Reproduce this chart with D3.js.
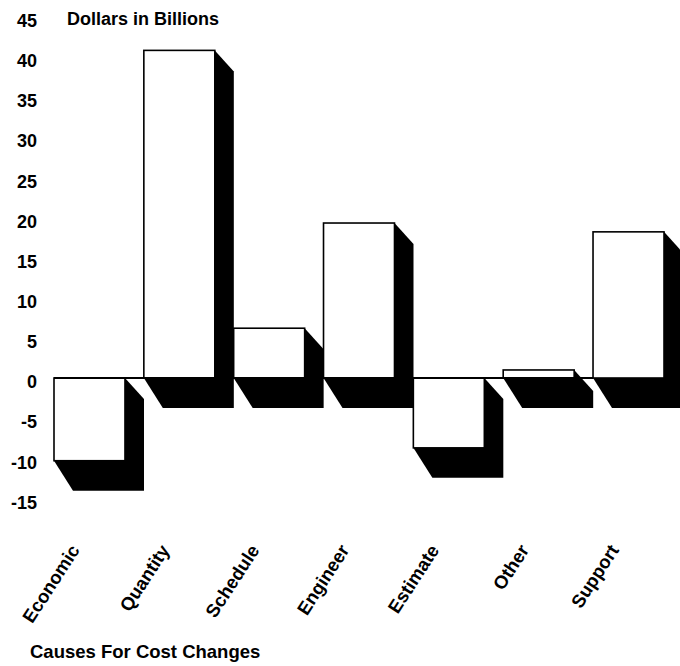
<!DOCTYPE html>
<html><head><meta charset="utf-8">
<script src="https://cdn.jsdelivr.net/npm/d3@7"></script>
<style>
body{margin:0;background:#fff}
svg{display:block}
</style>
</head><body><svg id="c" width="680" height="666"></svg>
<script>
const categories = ["Economic","Quantity","Schedule","Engineer","Estimate","Other","Support"];
const values = [-10.3, 40.8, 6.2, 19.3, -8.7, 1.0, 18.2];
const yTicks = [45,40,35,30,25,20,15,10,5,0,-5,-10,-15];
const yTitle = "Dollars in Billions";
const xTitle = "Causes For Cost Changes";

const FONT = '"Liberation Sans", Arial, Helvetica, sans-serif';
const svg = d3.select("#c");
const y0px = 378, k = 8.03;
const x = d3.scaleBand().domain(categories).range([54, 664]).paddingInner(0.21).paddingOuter(0);
const y = d3.scaleLinear().domain([-15, 45]).range([y0px + 15*k, y0px - 45*k]);
const bw = x.bandwidth();
const dx = 19, dyTop = 21, dyBot = 30;

const data = categories.map((c, i) => ({c, v: values[i]}));

// shadows
svg.append("g").selectAll("polygon").data(data).join("polygon")
  .attr("points", d => {
    const x0 = x(d.c), x1 = x0 + bw;
    const top = y(Math.max(d.v, 0)), bot = y(Math.min(d.v, 0));
    return [[x1, top], [x1+dx, top+dyTop], [x1+dx, bot+dyBot], [x0+dx, bot+dyBot], [x0, bot]].map(p => p.join(",")).join(" ");
  })
  .attr("fill", "#000");

// faces
svg.append("g").selectAll("rect").data(data).join("rect")
  .attr("x", d => x(d.c))
  .attr("y", d => y(Math.max(d.v, 0)))
  .attr("width", bw)
  .attr("height", d => Math.abs(y(d.v) - y(0)))
  .attr("fill", "#fff")
  .attr("stroke", "#000")
  .attr("stroke-width", 1.6);

// zero line
svg.append("line")
  .attr("x1", x(categories[0])).attr("x2", x(categories[categories.length-1]))
  .attr("y1", y(0)).attr("y2", y(0))
  .attr("stroke", "#000").attr("stroke-width", 1.8);

// y axis
const ax = svg.append("g").attr("transform", "translate(37,0)")
  .call(d3.axisLeft(y).tickValues(yTicks).tickSize(0).tickPadding(0).tickFormat(d => String(d)));
ax.select(".domain").remove();
ax.selectAll("text")
  .attr("font-family", FONT).attr("font-weight", "bold").attr("font-size", 18)
  .attr("fill", "#000").attr("y", 3.5).attr("dy", "0.35em");

// y title
svg.append("text").attr("x", 67).attr("y", 25)
  .attr("font-family", FONT).attr("font-weight", "bold").attr("font-size", 18)
  .text(yTitle);

// x labels
svg.append("g").selectAll("text").data(data).join("text")
  .attr("transform", d => `translate(${x(d.c) + bw/2 - 9},550) rotate(-57)`)
  .attr("text-anchor", "end")
  .attr("font-family", FONT).attr("font-weight", "bold").attr("font-size", 18.5)
  .text(d => d.c);

// x title
svg.append("text").attr("x", 30).attr("y", 658)
  .attr("font-family", FONT).attr("font-weight", "bold").attr("font-size", 18.5)
  .text(xTitle);
</script>
</body></html>
